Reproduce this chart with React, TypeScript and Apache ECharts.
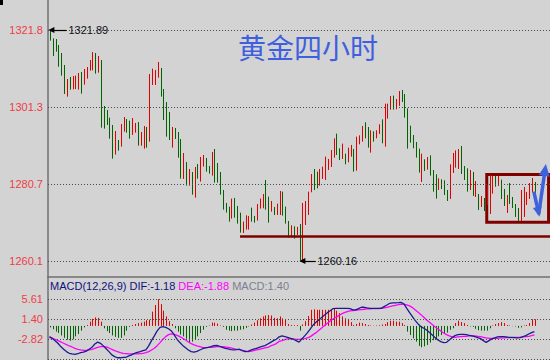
import React, { useEffect, useRef } from "react";
import * as echarts from "echarts";

// ---- data (4-hour gold chart) ----
const candleHigh = [
  1321.89, 1319.66, 1319.48, 1317.88, 1315.74, 1312.54, 1308.8, 1309.33, 1309.6, 1309.7,
  1310.4, 1310.67, 1311.47, 1312.0, 1313.87, 1316.01, 1315.74, 1314.94, 1313.87, 1301.59,
  1300.52, 1298.47, 1296.51, 1294.91, 1292.5, 1296.78, 1298.65, 1298.11, 1297.67, 1298.38,
  1297.05, 1297.31, 1294.64, 1296.24, 1295.98, 1310.13, 1311.56, 1311.2, 1313.34, 1311.74,
  1306.13, 1302.65, 1299.98, 1295.98, 1295.71, 1294.64, 1292.77, 1289.03, 1286.63, 1284.76,
  1283.96, 1285.29, 1286.09, 1287.96, 1288.5, 1287.7, 1285.56, 1289.3, 1290.1, 1286.36,
  1283.96, 1279.15, 1275.68, 1274.7, 1276.84, 1277.01, 1274.88, 1273.1, 1270.69, 1272.38,
  1272.21, 1274.43, 1272.21, 1275.41, 1276.84, 1278.08, 1281.82, 1277.37, 1276.21, 1274.61,
  1275.5, 1278.88, 1278.7, 1274.7, 1270.87, 1269.71, 1269.45, 1269.27, 1270.07, 1275.68,
  1276.21, 1278.7, 1283.42, 1284.76, 1284.05, 1284.76, 1285.38, 1288.05, 1287.43, 1289.83,
  1292.95, 1294.2, 1290.28, 1291.53, 1288.85, 1290.46, 1291.17, 1290.1, 1293.4, 1293.75,
  1296.24, 1297.22, 1295.98, 1295.09, 1294.82, 1295.09, 1296.69, 1298.02, 1302.21, 1302.21,
  1304.26, 1304.35, 1303.46, 1305.59, 1305.86, 1304.79, 1300.96, 1296.33, 1293.84, 1291.97,
  1290.19, 1288.85, 1287.34, 1287.96, 1288.41, 1284.49, 1283.33, 1282.27, 1282.0, 1281.73,
  1279.15, 1286.01, 1289.03, 1289.74, 1290.1, 1290.9, 1285.56, 1284.94, 1284.49, 1283.96,
  1281.55, 1278.08, 1277.55, 1277.01, 1280.49, 1283.16, 1283.0, 1282.9, 1283.0, 1281.91,
  1279.42, 1277.81, 1281.02, 1277.28, 1275.41, 1274.34, 1279.15, 1279.95, 1278.62, 1281.02,
  1282.36, 1281.29,
];

const candleLow = [
  1319.04, 1314.94, 1316.1, 1312.09, 1309.69, 1304.79, 1304.08, 1305.95, 1306.04, 1306.1,
  1305.95, 1304.88, 1307.28, 1308.89, 1311.02, 1311.11, 1310.22, 1310.49, 1295.8, 1295.53,
  1296.51, 1292.86, 1287.52, 1288.59, 1289.66, 1290.72, 1294.73, 1294.46, 1292.86, 1293.84,
  1294.46, 1290.99, 1290.99, 1290.19, 1290.46, 1292.06, 1307.19, 1307.19, 1309.15, 1304.08,
  1297.85, 1293.4, 1292.5, 1290.46, 1292.77, 1287.79, 1282.18, 1282.09, 1280.31, 1280.31,
  1277.9, 1277.1, 1282.18, 1281.38, 1285.38, 1284.05, 1283.51, 1282.98, 1281.11, 1281.11,
  1277.9, 1273.9, 1273.1, 1270.69, 1271.49, 1271.76, 1270.16, 1267.75, 1267.66, 1268.55,
  1268.55, 1270.69, 1270.43, 1270.96, 1274.17, 1274.26, 1273.9, 1270.43, 1273.36, 1272.47,
  1272.47, 1272.47, 1272.3, 1270.16, 1266.42, 1266.51, 1266.15, 1267.13, 1260.3, 1260.16,
  1269.8, 1272.47, 1278.53, 1279.15, 1279.6, 1280.31, 1282.09, 1281.82, 1284.49, 1285.29,
  1287.79, 1288.5, 1287.16, 1287.43, 1286.01, 1286.54, 1288.05, 1284.05, 1284.31, 1291.35,
  1292.06, 1292.95, 1290.46, 1289.12, 1292.06, 1292.95, 1294.11, 1291.62, 1290.72, 1298.2,
  1300.61, 1300.61, 1300.7, 1301.59, 1302.65, 1298.47, 1290.19, 1291.79, 1290.28, 1287.79,
  1283.78, 1281.29, 1284.22, 1284.58, 1282.98, 1278.7, 1276.84, 1279.15, 1279.42, 1277.81,
  1276.21, 1276.75, 1283.69, 1285.11, 1284.76, 1283.42, 1281.82, 1278.7, 1279.15, 1277.55,
  1277.28, 1273.81, 1274.61, 1273.54, 1275.14, 1272.74, 1278.17, 1280.04, 1280.22, 1276.75,
  1274.88, 1273.01, 1275.41, 1274.34, 1271.94, 1270.87, 1270.87, 1271.94, 1275.14, 1276.75,
  1278.62, 1277.81,
];

// 1 = rising bar (red), 0 = falling bar (green)
const candleUp = [
  0, 0, 0, 0, 0, 0, 1, 0, 1, 1,
  1, 0, 1, 1, 1, 1, 0, 1, 0, 0,
  0, 0, 0, 1, 0, 1, 1, 0, 0, 1,
  1, 0, 1, 1, 0, 1, 1, 1, 1, 0,
  0, 0, 0, 1, 0, 0, 0, 1, 0, 1,
  0, 1, 0, 1, 1, 0, 0, 1, 0, 0,
  0, 0, 0, 0, 1, 0, 0, 0, 1, 1,
  1, 0, 0, 1, 1, 1, 0, 0, 1, 0,
  1, 1, 0, 0, 0, 1, 0, 1, 0, 1,
  1, 1, 1, 0, 0, 1, 1, 1, 1, 1,
  1, 0, 0, 1, 0, 1, 1, 0, 1, 1,
  1, 0, 0, 1, 0, 1, 1, 0, 1, 1,
  1, 0, 1, 1, 0, 0, 0, 0, 0, 0,
  0, 1, 0, 1, 0, 0, 0, 1, 0, 0,
  0, 1, 1, 1, 1, 0, 0, 0, 1, 0,
  1, 0, 1, 0, 1, 1, 1, 0, 1, 0,
  0, 1, 0, 0, 0, 0, 1, 1, 1, 1,
  1, 0,
];

const macdHist = [
  -0.3, -0.7, -1.2, -1.5, -2.0, -2.5, -2.9, -3.1, -2.8, -2.2,
  -1.7, -1.0, -0.3, 0.2, 0.9, 1.5, 1.8, 1.7, 0.9, -0.5,
  -1.1, -1.5, -2.0, -2.3, -2.5, -2.5, -2.0, -1.0, -0.2, 0.2,
  0.4, 0.6, 0.7, 0.9, 1.2, 1.3, 3.0, 4.4, 5.61, 4.6,
  3.2, 2.0, 1.0, 0.4, -0.5, -1.2, -1.8, -2.2, -2.7, -3.4,
  -3.3, -2.9, -2.2, -1.5, -0.8, -0.2, 0.1, 0.7, 0.7, 0.5,
  0.1, -0.2, -0.8, -1.0, -1.1, -1.0, -1.0, -0.8, -0.7, -0.4,
  -0.1, 0.3, 0.7, 1.2, 1.6, 2.0, 2.2, 2.3, 2.2, 1.7,
  1.6, 2.0, 1.6, 1.3, 0.4, 0.2, 0.15, 0.2, -1.0, 0.3,
  1.0, 2.1, 3.4, 3.5, 3.4, 3.4, 3.4, 3.4, 3.4, 3.5,
  3.7, 3.2, 2.7, 2.0, 1.6, 1.4, 0.8, 0.2, 0.4, 0.7,
  0.6, 0.4, 0.2, 0.1, 0.05, 0.1, 0.15, 0.3, 0.4, 0.8,
  1.1, 1.1, 0.9, 0.9, 0.6, 0.2, -1.2, -1.9, -2.6, -3.3,
  -4.2, -4.5, -4.3, -4.0, -3.5, -3.0, -2.6, -2.2, -1.9, -1.7,
  -1.4, -0.8, -0.5, 0.6, 1.1, 0.8, 0.6, 0.2, -0.1, -0.2,
  -0.6, -0.9, -1.0, -1.0, -1.0, -0.5, 0.1, 0.4, 0.6, 0.8,
  0.6, 0.2, 0.1, -0.05, -0.1, -0.4, -0.3, 0.1, 0.2, 0.6,
  1.4, 1.4,
];

const difLine = [
  -2.25, -2.6, -3.1, -3.65, -4.35, -4.9, -5.4, -5.76, -5.9, -6.0,
  -5.85, -5.6, -5.5, -5.3, -4.9, -4.5, -3.8, -3.4, -3.65, -4.2,
  -4.8, -5.4, -6.1, -6.45, -6.7, -6.7, -6.6, -6.6, -6.3, -6.1,
  -5.76, -5.55, -5.4, -5.2, -5.06, -4.2, -3.1, -2.1, -1.05, -0.3,
  -0.15, -0.3, -0.6, -1.05, -1.9, -2.8, -3.5, -4.1, -4.6, -5.06,
  -5.4, -5.5, -5.35, -5.06, -4.8, -4.6, -4.5, -4.35, -4.15, -4.1,
  -4.3, -4.5, -4.7, -4.85, -5.0, -5.06, -5.0, -4.9, -5.2, -5.4,
  -5.35, -5.1, -4.9, -4.7, -4.5, -4.3, -4.15, -3.8, -3.45, -3.1,
  -2.8, -2.3, -2.1, -2.25, -2.4, -2.6, -2.8, -3.1, -3.4, -2.75,
  -2.1, -1.4, -0.6, 0.2, 0.8, 1.26, 1.8, 2.3, 2.8, 3.2,
  3.65, 3.7, 3.7, 3.7, 3.7, 3.7, 3.65, 3.37, 3.37, 3.65,
  3.93, 3.93, 3.8, 3.7, 3.7, 3.7, 3.7, 3.7, 4.07, 4.4,
  4.77, 4.84, 4.84, 4.9, 4.98, 4.63, 3.7, 2.8, 1.96, 1.12,
  0.42, -0.14, -0.5, -0.85, -1.4, -1.9, -2.46, -2.95, -3.3, -3.5,
  -3.45, -2.95, -2.46, -2.04, -1.83, -1.76, -1.76, -1.83, -1.97, -2.11,
  -2.25, -2.46, -2.67, -3.09, -3.45, -3.09, -2.74, -2.53, -2.32, -2.25,
  -2.25, -2.32, -2.39, -2.39, -2.46, -2.53, -2.46, -2.25, -2.04, -1.69,
  -1.41, -1.18,
];

const deaLine = [
  -2.46, -2.6, -2.81, -3.09, -3.37, -3.65, -3.93, -4.22, -4.43, -4.71,
  -4.92, -5.06, -5.13, -5.13, -5.06, -4.92, -4.71, -4.5, -4.36, -4.29,
  -4.43, -4.64, -4.92, -5.2, -5.41, -5.62, -5.76, -5.83, -5.9, -5.9,
  -5.9, -5.9, -5.83, -5.76, -5.62, -5.41, -5.06, -4.71, -4.15, -3.51,
  -2.81, -2.25, -1.83, -1.69, -1.76, -1.97, -2.25, -2.6, -2.95, -3.37,
  -3.72, -4.0, -4.22, -4.36, -4.5, -4.57, -4.5, -4.5, -4.43, -4.36,
  -4.36, -4.36, -4.43, -4.5, -4.64, -4.78, -4.92, -4.99, -5.13, -5.27,
  -5.41, -5.34, -5.2, -5.06, -4.92, -4.78, -4.64, -4.5, -4.22, -4.0,
  -3.72, -3.25, -3.09, -2.88, -2.74, -2.74, -2.74, -2.81, -2.81, -2.74,
  -2.67, -2.53, -2.25, -1.83, -1.41, -0.92, -0.42, 0.07, 0.56, 1.05,
  1.47, 1.82, 2.17, 2.52, 2.8, 3.02, 3.16, 3.23, 3.3, 3.37,
  3.44, 3.51, 3.58, 3.58, 3.65, 3.65, 3.65, 3.72, 3.79, 3.93,
  4.07, 4.21, 4.35, 4.49, 4.56, 4.56, 4.42, 4.21, 3.86, 3.37,
  2.87, 2.38, 1.82, 1.26, 0.77, 0.28, -0.21, -0.63, -1.06, -1.48,
  -1.83, -2.11, -2.32, -2.39, -2.32, -2.25, -2.18, -2.18, -2.11, -2.11,
  -2.11, -2.18, -2.25, -2.39, -2.53, -2.6, -2.6, -2.6, -2.6, -2.53,
  -2.53, -2.46, -2.46, -2.46, -2.39, -2.39, -2.39, -2.32, -2.25, -2.18,
  -2.04, -1.88,
];

const priceTicks = [1321.8, 1301.3, 1280.7, 1260.1];
const macdTicks = [5.61, 1.4, -2.82, -7.03];
const macdLabelled = [true, true, true, false];
const supportLevel = 1266.86;
const boxTop = 1283.28;
const boxBottom = 1270.51;
const titleText = "黄金四小时";

const SLOT_COUNT = 177;
const categories = Array.from({ length: SLOT_COUNT }, (_, i) => String(i + 1));

const PRICE_MIN = 1255.9;
const PRICE_MAX = 1329.9;
const MACD_MIN = -7.17;
const MACD_MAX = 10.3;

const BG = "#d3d3d3";
const UP = "#e00000";
const DOWN = "#006400";
const AXIS = "#707070";
const GRIDLINE = "#4a4a4a";
const TICK_RED = "#f03c46";
const FONT = "'Liberation Sans', Arial, sans-serif";

export default function App() {
  const ref = useRef<HTMLDivElement>(null);

  useEffect(() => {
    if (!ref.current) return;
    const chart = echarts.init(ref.current, undefined, { renderer: "svg" });

    const peakVal = Math.max(...candleHigh);
    const peakIdx = candleHigh.indexOf(peakVal);
    const troughVal = Math.min(...candleLow);
    const troughIdx = candleLow.indexOf(troughVal);
    const n = macdHist.length;
    const lastDif = difLine[n - 1];
    const lastDea = deaLine[n - 1];
    const lastHist = macdHist[n - 1];

    const axisLine = { show: true, onZero: false, lineStyle: { color: AXIS, width: 1.5 } };

    const option: any = {
      animation: false,
      backgroundColor: BG,
      textStyle: { fontFamily: FONT },
      grid: [
        { left: 48, right: 0, top: 0, height: 277 },
        { left: 48, right: 0, top: 277, height: 83 },
      ],
      xAxis: [
        {
          type: "category",
          gridIndex: 0,
          data: categories,
          boundaryGap: true,
          axisLine,
          axisTick: { show: false },
          axisLabel: { show: false },
          splitLine: { show: false },
        },
        { type: "value", gridIndex: 0, min: -0.5, max: SLOT_COUNT - 0.5, show: false },
        { type: "category", gridIndex: 1, data: categories, boundaryGap: true, show: false },
      ],
      yAxis: [
        {
          type: "value",
          gridIndex: 0,
          min: PRICE_MIN,
          max: PRICE_MAX,
          axisLine,
          axisTick: { show: false },
          axisLabel: { show: false },
          splitLine: { show: false },
        },
        {
          type: "value",
          gridIndex: 1,
          min: MACD_MIN,
          max: MACD_MAX,
          axisLine,
          axisTick: { show: false },
          axisLabel: { show: false },
          splitLine: { show: false },
        },
      ],
      graphic: [
        { type: "rect", shape: { x: 0, y: 0, width: 3, height: 5 }, style: { fill: "#000" } },
        {
          type: "text",
          x: 238,
          y: 47,
          style: {
            text: titleText,
            fill: "#3d5fe0",
            fontSize: 28,
            fontFamily: "'Noto Sans CJK SC', sans-serif",
            verticalAlign: "middle",
          },
        },
        {
          type: "text",
          x: 50,
          y: 286,
          style: {
            text:
              `{a|MACD(12,26,9) DIF:${lastDif.toFixed(2)}} ` +
              `{b|DEA:${lastDea.toFixed(2)}} {c|MACD:${lastHist.toFixed(2)}}`,
            verticalAlign: "middle",
            fontSize: 11,
            fontFamily: FONT,
            rich: {
              a: { fill: "#101080", fontSize: 11, fontFamily: FONT },
              b: { fill: "#ff00ff", fontSize: 11, fontFamily: FONT },
              c: { fill: "#7c8090", fontSize: 11, fontFamily: FONT },
            },
          },
        },
      ],
      series: [
        {
          type: "custom",
          name: "K",
          xAxisIndex: 0,
          yAxisIndex: 0,
          data: candleHigh.map((h, i) => [i, candleLow[i], h, candleUp[i]]),
          encode: { x: 0, y: [1, 2] },
          renderItem: (_p: any, api: any) => {
            const idx = api.value(0);
            const lo = api.coord([idx, api.value(1)]);
            const hi = api.coord([idx, api.value(2)]);
            const x = Math.floor(lo[0]) + 1.5;
            return {
              type: "line",
              shape: { x1: x, y1: hi[1], x2: x, y2: lo[1] },
              style: { stroke: api.value(3) ? UP : DOWN, lineWidth: 1 },
            };
          },
          markLine: {
            silent: true,
            symbol: "none",
            lineStyle: { color: GRIDLINE, width: 1, type: [1, 2] },
            label: {
              show: true,
              position: "start",
              distance: 5,
              color: TICK_RED,
              fontSize: 11,
              fontFamily: FONT,
              formatter: (p: any) => Number(p.value).toFixed(1),
            },
            data: priceTicks.map((v) => ({ yAxis: v })),
          },
          z: 3,
        },
        {
          type: "line",
          name: "annotations",
          xAxisIndex: 1,
          yAxisIndex: 0,
          data: [],
          silent: true,
          markArea: {
            silent: true,
            itemStyle: { color: "rgba(0,0,0,0)", borderColor: "#800000", borderWidth: 3 },
            data: [[{ coord: [154.2, boxTop] }, { coord: [176.0, boxBottom] }]],
          },
          markLine: {
            silent: true,
            symbol: "none",
            data: [
              [
                {
                  coord: [peakIdx + 0.7, peakVal],
                  symbol: "triangle",
                  symbolSize: [6, 6],
                  lineStyle: { color: "#000", width: 1.2, type: "solid" },
                  label: {
                    show: true,
                    position: "end",
                    distance: 2,
                    color: "#101018",
                    fontSize: 11,
                    fontFamily: FONT,
                    formatter: peakVal.toFixed(2),
                  },
                },
                { coord: [peakIdx + 6.0, peakVal], symbol: "none" },
              ],
              [
                {
                  coord: [troughIdx + 0.2, troughVal],
                  symbol: "triangle",
                  symbolSize: [6, 6],
                  lineStyle: { color: "#000", width: 1.2, type: "solid" },
                  label: {
                    show: true,
                    position: "end",
                    distance: 2,
                    color: "#101018",
                    fontSize: 11,
                    fontFamily: FONT,
                    formatter: troughVal.toFixed(2),
                  },
                },
                { coord: [troughIdx + 4.8, troughVal], symbol: "none" },
              ],
              [
                {
                  coord: [67.2, supportLevel],
                  lineStyle: { color: "#800000", width: 2.5, type: "solid" },
                  label: { show: false },
                },
                { coord: [SLOT_COUNT - 0.5, supportLevel] },
              ],
              [
                {
                  coord: [170.8, 1278.7],
                  lineStyle: { color: "#3d62dc", width: 3.5, type: "solid" },
                  label: { show: false },
                },
                { coord: [172.4, 1273.3], symbol: "triangle", symbolSize: [9, 10] },
              ],
              [
                {
                  coord: [172.5, 1272.6],
                  lineStyle: { color: "#3d62dc", width: 3.5, type: "solid" },
                  label: { show: false },
                },
                { coord: [174.75, 1284.5], symbol: "triangle", symbolSize: [11, 12] },
              ],
            ],
          },
          z: 5,
        },
        {
          type: "custom",
          name: "MACD",
          xAxisIndex: 2,
          yAxisIndex: 1,
          data: macdHist.map((v, i) => [i, v]),
          encode: { x: 0, y: 1 },
          renderItem: (_p: any, api: any) => {
            const idx = api.value(0);
            const v = api.value(1);
            const a = api.coord([idx, 0]);
            const b = api.coord([idx, v]);
            const x = Math.floor(a[0]) + 1.5;
            return {
              type: "line",
              shape: { x1: x, y1: a[1], x2: x, y2: b[1] },
              style: { stroke: v >= 0 ? UP : DOWN, lineWidth: 1 },
            };
          },
          markLine: {
            silent: true,
            symbol: "none",
            lineStyle: { color: GRIDLINE, width: 1, type: [1, 2] },
            label: {
              show: true,
              position: "start",
              distance: 5,
              color: TICK_RED,
              fontSize: 11,
              fontFamily: FONT,
              formatter: (p: any) => Number(p.value).toFixed(2),
            },
            data: macdTicks.map((v, i) => ({
              yAxis: v,
              label: { show: macdLabelled[i] },
            })),
          },
          z: 2,
        },
        {
          type: "line",
          name: "DIF",
          xAxisIndex: 2,
          yAxisIndex: 1,
          data: difLine,
          symbol: "none",
          showSymbol: false,
          lineStyle: { color: "#1c1c8c", width: 1.3 },
          z: 4,
        },
        {
          type: "line",
          name: "DEA",
          xAxisIndex: 2,
          yAxisIndex: 1,
          data: deaLine,
          symbol: "none",
          showSymbol: false,
          lineStyle: { color: "#ff00ff", width: 1.3 },
          z: 3,
        },
      ],
    };

    chart.setOption(option);
    return () => chart.dispose();
  }, []);

  return (
    <div
      ref={ref}
      style={{ position: "fixed", left: 0, top: 0, width: 550, height: 360, background: BG }}
    />
  );
}
